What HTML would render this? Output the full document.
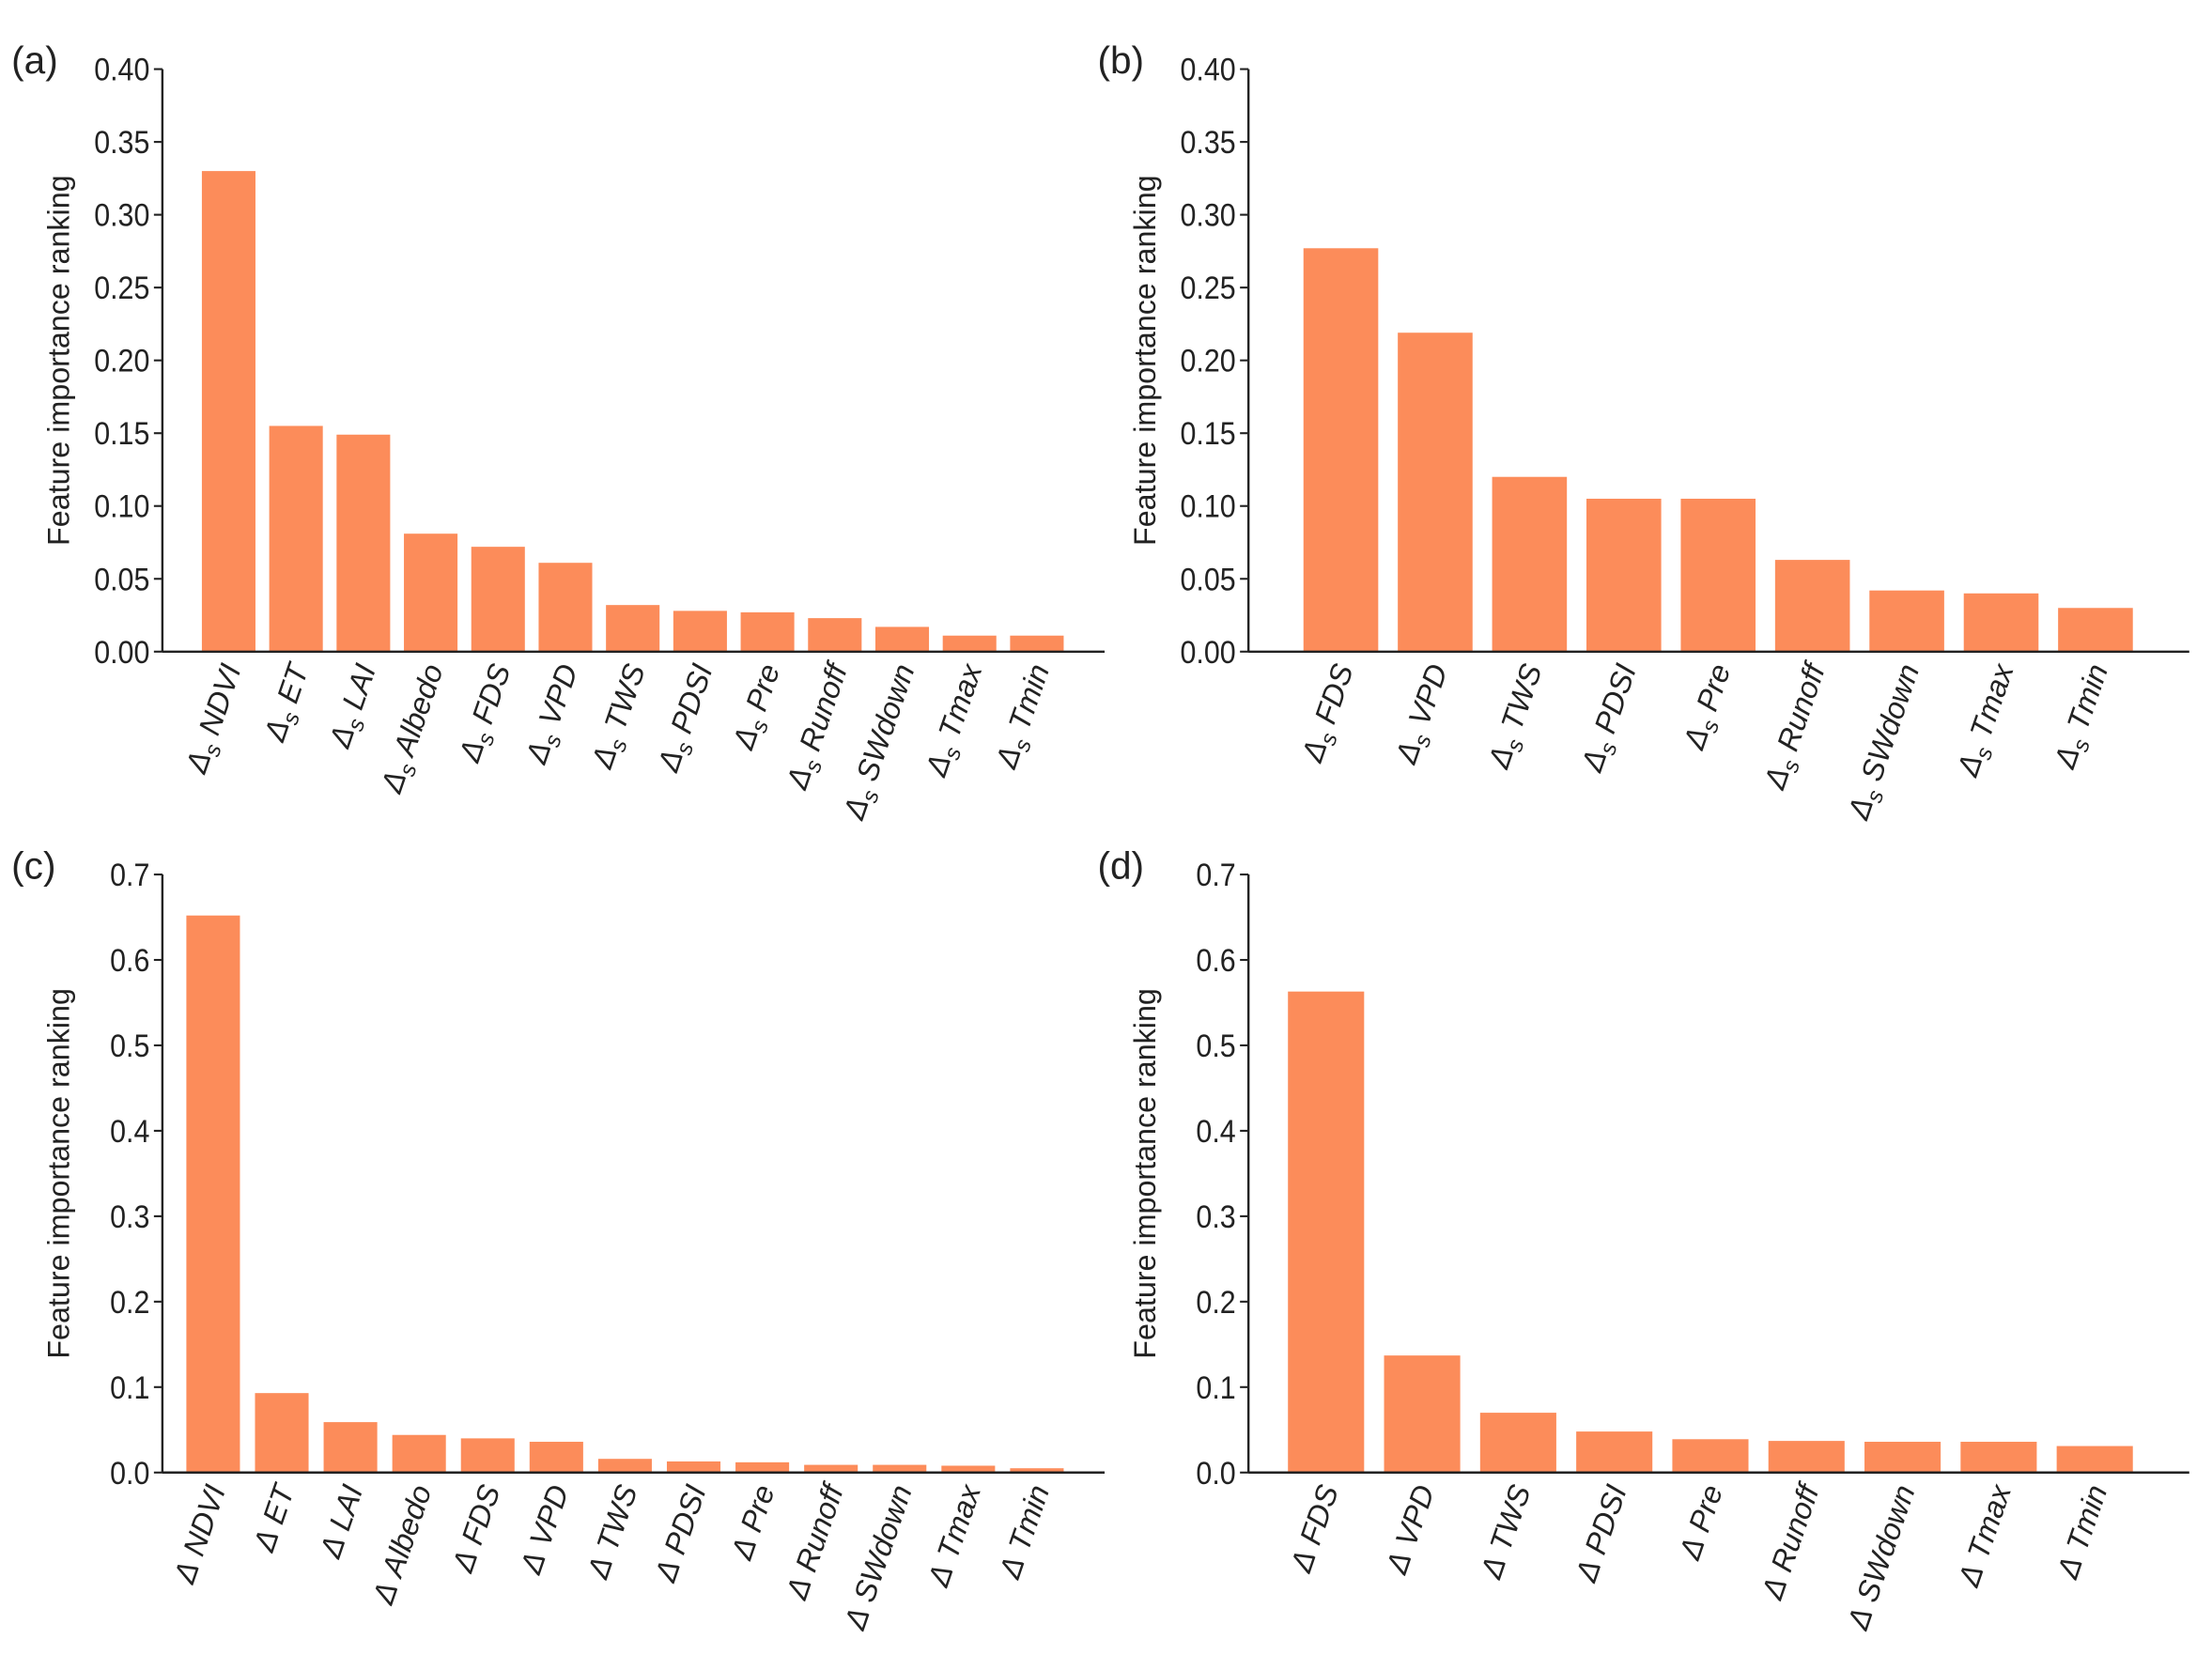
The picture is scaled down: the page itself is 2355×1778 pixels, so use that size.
<!DOCTYPE html>
<html><head><meta charset="utf-8"><style>
html,body{margin:0;padding:0;background:#fff}
svg{display:block}
text{font-family:"Liberation Sans",Arial,sans-serif;fill:#222}
</style></head><body>
<svg id="fig" width="2355" height="1778" viewBox="0 0 1568 1184" xmlns="http://www.w3.org/2000/svg"></svg>
<script>
const catsA = ["NDVI","ET","LAI","Albedo","FDS","VPD","TWS","PDSI","Pre","Runoff","SWdown","Tmax","Tmin"];
const valsA = [0.330,0.155,0.149,0.081,0.072,0.061,0.032,0.028,0.027,0.023,0.017,0.011,0.011];
const catsB = ["FDS","VPD","TWS","PDSI","Pre","Runoff","SWdown","Tmax","Tmin"];
const valsB = [0.277,0.219,0.120,0.105,0.105,0.063,0.042,0.040,0.030];
const valsC = [0.652,0.093,0.059,0.044,0.040,0.036,0.016,0.013,0.012,0.009,0.009,0.008,0.005];
const valsD = [0.563,0.137,0.070,0.048,0.039,0.037,0.036,0.036,0.031];
const ticksAB = ["0.00","0.05","0.10","0.15","0.20","0.25","0.30","0.35","0.40"];
const ticksCD = ["0.0","0.1","0.2","0.3","0.4","0.5","0.6","0.7"];

const NS="http://www.w3.org/2000/svg";
const svg=document.getElementById('fig');
function mk(tag,attrs,parent){const e=document.createElementNS(NS,tag);for(const k in attrs)e.setAttribute(k,attrs[k]);(parent||svg).appendChild(e);return e;}

function panel(p){
  const g=mk('g',{});
  
  
  const yMax=parseFloat(p.ticks[p.ticks.length-1]);
  const yS=v=>p.y0-(v/yMax)*(p.y0-p.yTop);
  const n=p.cats.length;
  const xS=i=>p.c0+i*(p.c1-p.c0)/(n-1);
  p.vals.forEach((v,i)=>{
    const r=mk('rect',{x:xS(i)-p.bw/2,y:yS(v),width:p.bw,height:p.y0-yS(v),fill:'#fc8c5a'},g);
    
    
  });
  const ya=mk('line',{x1:p.ax,y1:p.yTop,x2:p.ax,y2:p.y0+0.5,stroke:'#222','stroke-width':1.6},g);
  
  
  const xa=mk('line',{x1:p.ax,y1:p.y0,x2:p.xr,y2:p.y0,stroke:'#222','stroke-width':1.6},g);
  
  
  p.ticks.forEach(t=>{
    const y=yS(parseFloat(t));
    mk('line',{x1:p.ax-6,y1:y,x2:p.ax,y2:y,stroke:'#222','stroke-width':1.4},g);
    const tl=mk('text',{x:0,y:0,'text-anchor':'end','font-size':23,transform:`translate(${p.ax-9} ${y+8}) scale(0.88 1)`},g);
    tl.textContent=t;
    
    
  });
  p.cats.forEach((c,i)=>{
    const x=xS(i)+9, y=p.y0+12;
    const t=mk('text',{x:x,y:y,'text-anchor':'end','font-size':21.5,'font-style':'italic',transform:`rotate(-71 ${x} ${y})`},g);
    
    
    const d=mk('tspan',{},t);d.textContent='Δ';
    if(p.sub){const s=mk('tspan',{'font-size':16,dy:5},t);s.textContent='s';const r=mk('tspan',{dy:-5},t);r.textContent=' '+c;}
    else{const r=mk('tspan',{},t);r.textContent=' '+c;}
  });
  const cy=(p.yTop+p.y0)/2;
  const yt=mk('text',{x:p.ax-66,y:cy,'text-anchor':'middle','font-size':21.5,transform:`rotate(-90 ${p.ax-66} ${cy})`},g);
  yt.textContent='Feature importance ranking';
  
  
  const pl=mk('text',{x:p.ax-107,y:p.yTop+3,'font-size':27},g);
  pl.textContent='('+p.id+')';
  
  
}
panel({id:'a',cats:catsA,vals:valsA,ticks:ticksAB,ax:115,xr:783,yTop:49,y0:462,c0:162,c1:735,bw:38,sub:true});
panel({id:'b',cats:catsB,vals:valsB,ticks:ticksAB,ax:885,xr:1552,yTop:49,y0:462,c0:950.5,c1:1485.5,bw:53,sub:true});
panel({id:'c',cats:catsA,vals:valsC,ticks:ticksCD,ax:115,xr:783,yTop:620,y0:1044,c0:151,c1:735,bw:38,sub:false});
panel({id:'d',cats:catsB,vals:valsD,ticks:ticksCD,ax:885,xr:1552,yTop:620,y0:1044,c0:940,c1:1485,bw:54,sub:false});
</script>
</body></html>
